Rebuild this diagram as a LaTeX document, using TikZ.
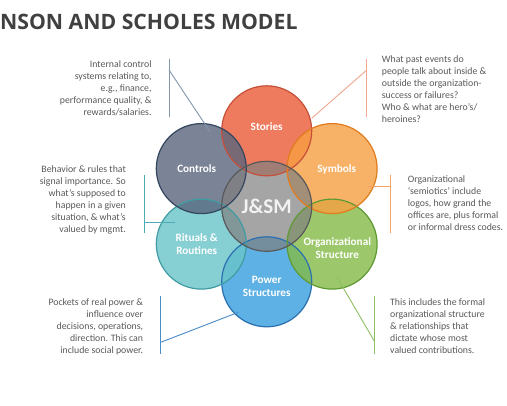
\documentclass[tikz,border=0pt]{standalone}
\usepackage{fontspec}
\setmainfont{Carlito}
\newfontfamily\titlefont{Open Sans}
\definecolor{cStoriesF}{RGB}{236,90,54}
\definecolor{cStoriesD}{RGB}{197,80,58}
\definecolor{cSymF}{RGB}{247,159,65}
\definecolor{cSymD}{RGB}{224,123,30}
\definecolor{cOrgF}{RGB}{132,187,71}
\definecolor{cOrgD}{RGB}{94,154,51}
\definecolor{cPowF}{RGB}{54,158,222}
\definecolor{cPowD}{RGB}{42,112,176}
\definecolor{cRitF}{RGB}{104,196,201}
\definecolor{cRitD}{RGB}{63,156,163}
\definecolor{cConF}{RGB}{90,101,124}
\definecolor{cConD}{RGB}{52,70,94}
\definecolor{cMidF}{RGB}{128,128,128}
\definecolor{cMidD}{RGB}{89,89,89}
\definecolor{cTitle}{RGB}{64,64,64}
\definecolor{cText}{RGB}{89,89,89}
\definecolor{lCon}{RGB}{132,150,176}
\definecolor{lRit}{RGB}{75,172,184}
\definecolor{lSto}{RGB}{239,165,143}
\definecolor{lSym}{RGB}{244,164,96}
\definecolor{lPow}{RGB}{74,140,200}
\definecolor{lOrg}{RGB}{140,192,99}
\tikzset{
  circfill/.style={circle, minimum size=90bp, inner sep=0pt, fill opacity=0.8, draw=none},
  ring/.style={line width=1.2bp},
  lbl/.style={font=\bfseries\fontsize{11.2bp}{13.3bp}\selectfont, text=white, align=center, inner sep=0pt},
  note/.style={font=\fontsize{9.8bp}{12bp}\selectfont, text=cText, inner sep=0pt},
  conn/.style={line width=0.9bp}
}
\begin{document}
\begin{tikzpicture}[x=1bp,y=-1bp]
\useasboundingbox[fill=white] (0,0) rectangle (507,405);

% title
\node[anchor=base west, inner sep=0pt, font=\titlefont\bfseries\fontsize{21.2bp}{24bp}\selectfont, text=cTitle] (title) at (0,29) {NSON AND SCHOLES MODEL};

% circle fills
\node[circfill, fill=cStoriesF] (stories) at (266.7,130.8) {};
\node[circfill, fill=cPowF] (power) at (266.7,281.8) {};
\node[circfill, fill=cOrgF] (org) at (332.1,244.1) {};
\node[circfill, fill=cSymF] (symbols) at (332.1,168.6) {};
\node[circfill, fill=cRitF] (rituals) at (201.3,244.1) {};
\node[circfill, fill=cConF] (controls) at (201.3,168.6) {};
\node[circfill, fill=cMidF, fill opacity=0.7] (mid) at (266.7,206.3) {};

% circle outlines
\draw[ring, cStoriesD] (stories.center) circle[radius=45bp];
\draw[ring, cPowD] (power.center) circle[radius=45bp];
\draw[ring, cOrgD] (org.center) circle[radius=45bp];
\draw[ring, cSymD] (symbols.center) circle[radius=45bp];
\draw[ring, cRitD] (rituals.center) circle[radius=45bp];
\draw[ring, cConD] (controls.center) circle[radius=45bp];
\draw[ring, cMidD] (mid.center) circle[radius=45bp];

% circle labels
\node[lbl] (tSto) at (266.7,126.7) {Stories};
\node[lbl] (tSym) at (336.7,169.3) {Symbols};
\node[lbl] (tOrg) at (337.3,248.3) {Organizational\\Structure};
\node[lbl] (tPow) at (266.7,286.7) {Power\\Structures};
\node[lbl] (tRit) at (196.7,243.8) {Rituals \&\\Routines};
\node[lbl] (tCon) at (196.7,168.3) {Controls};
\node[lbl, font=\bfseries\fontsize{21bp}{22bp}\selectfont, text={rgb,255:red,242;green,242;blue,242}] (tMid) at (266.7,206.7) {J\&SM};

% notes
\node[note, anchor=north east, align=right] (nCon) at (151.7,60.5) {Internal control\\systems relating to,\\e.g., finance,\\performance quality, \&\\rewards/salaries.};
\node[note, anchor=north east, align=right] (nRit) at (126,165.5) {Behavior \& rules that\\signal importance. So\\what’s supposed to\\happen in a given\\situation, \& what’s\\valued by mgmt.};
\node[note, anchor=north west, align=left] (nSto) at (381.7,55.5) {What past events do\\people talk about inside \&\\outside the organization-\\success or failures?\\Who \& what are hero’s/\\heroines?};
\node[note, anchor=north west, align=left] (nSym) at (407.7,175.5) {Organizational\\‘semiotics’ include\\logos, how grand the\\offices are, plus formal\\or informal dress codes.};
\node[note, anchor=north east, align=right] (nPow) at (143.3,298) {Pockets of real power \&\\influence over\\decisions, operations,\\direction. This can\\include social power.};
\node[note, anchor=north west, align=left] (nOrg) at (390,298) {This includes the formal\\organizational structure\\\& relationships that\\dictate whose most\\valued contributions.};

% connector coordinates
\coordinate (conA) at (169,59.3);
\coordinate (conB) at (169,116.7);
\coordinate (conK) at (169,70);
\coordinate (conE) at (210,131.7);
\coordinate (ritA) at (144.3,175);
\coordinate (ritB) at (144.3,233.3);
\coordinate (ritK) at (144.3,222.7);
\coordinate (ritE) at (175,222.7);
\coordinate (stoA) at (366,59.3);
\coordinate (stoB) at (366,116.7);
\coordinate (stoK) at (366,70.7);
\coordinate (stoE) at (311.7,118.3);
\coordinate (symA) at (390.7,175);
\coordinate (symB) at (390.7,233.3);
\coordinate (symK) at (390.7,186);
\coordinate (symE) at (368.3,186);
\coordinate (powA) at (160.7,295.7);
\coordinate (powB) at (160.7,354);
\coordinate (powK) at (160.7,342.3);
\coordinate (powE) at (238.3,312.3);
\coordinate (orgA) at (374.7,295.7);
\coordinate (orgB) at (374.7,354);
\coordinate (orgK) at (374.7,341.7);
\coordinate (orgE) at (337.3,277.7);

% connectors
\draw[conn, lCon] (conA) -- (conB);
\draw[conn, lCon] (conK) -- (conE);
\draw[conn, lRit] (ritA) -- (ritB);
\draw[conn, lRit] (ritK) -- (ritE);
\draw[conn, lSto] (stoA) -- (stoB);
\draw[conn, lSto] (stoK) -- (stoE);
\draw[conn, lSym] (symA) -- (symB);
\draw[conn, lSym] (symK) -- (symE);
\draw[conn, lPow] (powA) -- (powB);
\draw[conn, lPow] (powK) -- (powE);
\draw[conn, lOrg] (orgA) -- (orgB);
\draw[conn, lOrg] (orgK) -- (orgE);
\end{tikzpicture}
\end{document}
